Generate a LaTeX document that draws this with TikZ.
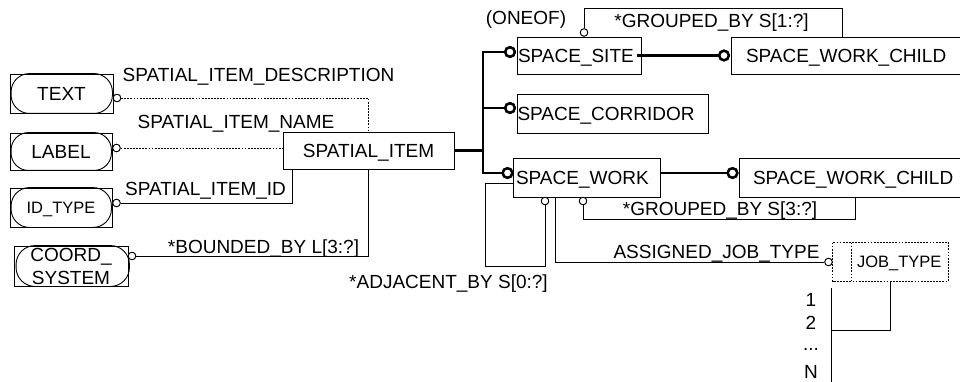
\documentclass[tikz,border=0pt]{standalone}
\usepackage{fontspec}
\setmainfont{Liberation Sans}
\usetikzlibrary{calc}
\newcommand\fsn{\fontsize{19}{23}\selectfont}
\newcommand\fss{\fontsize{16.5}{20}\selectfont}
\newcommand\boxtxt[3]{\makebox[#1pt][l]{\hspace{#2pt}#3}}
\tikzset{
  ln/.style={line width=0.9pt},
  bus/.style={line width=2.8pt},
  dotl/.style={line width=0.8pt, dash pattern=on 1.8pt off 1.3pt},
  box/.style={draw, line width=0.9pt, inner sep=0pt, text height=13.6pt, text depth=0pt, font=\fsn},
  lbl/.style={inner sep=0pt, text height=13.6pt, text depth=0pt, font=\fsn},
  oc/.style={circle, draw, line width=0.8pt, minimum size=7.5pt, inner sep=0pt, fill=white},
  boc/.style={circle, draw, line width=2.4pt, minimum size=9.5pt, inner sep=0pt, fill=white},
  pill/.style={line width=0.9pt}
}
\begin{document}
\begin{tikzpicture}[x=1pt,y=-1pt]
\useasboundingbox (0,0) rectangle (960,382);
\fill[white] (0,0) rectangle (960,382);

% left boxes
\node[box, minimum width=103pt, minimum height=39pt] (txt) at (61.5,93.5) {TEXT};
\node[box, minimum width=102pt, minimum height=37pt] (lab) at (61,151.5) {LABEL};
\node[box, font=\fss, text height=11.8pt, minimum width=102pt, minimum height=39pt] (idt) at (61,207.5) {ID\_TYPE};
\node[draw, line width=0.9pt, inner sep=0pt, font=\fsn, align=center, minimum width=114pt, minimum height=40pt] (crd) at (71,266) {COORD\_\\SYSTEM};
\draw[pill, rounded corners=18.5pt] ($(txt.north west)+(1.5,0)$) rectangle ($(txt.south east)+(-1,0)$);
\draw[pill, rounded corners=17.5pt] ($(lab.north west)+(1.5,0)$) rectangle ($(lab.south east)+(-1,0)$);
\draw[pill, rounded corners=18.5pt] ($(idt.north west)+(1.5,0)$) rectangle ($(idt.south east)+(-1,0)$);
\draw[pill, rounded corners=19pt] ($(crd.north west)+(2.5,0)$) rectangle ($(crd.south east)+(1,0)$);

% main boxes
\node[box, minimum width=171pt, minimum height=37pt] (spatial) at (368.5,150.5) {SPATIAL\_ITEM};
\node[box, minimum height=37pt] (site) at (579,55.5) {\boxtxt{124}{1}{SPACE\_SITE}};
\node[box, minimum height=37pt] (swc1) at (846.5,55.5) {\boxtxt{231}{15}{SPACE\_WORK\_CHILD}};
\node[box, minimum height=39pt] (corr) at (612.5,113.5) {\boxtxt{191}{0.5}{SPACE\_CORRIDOR}};
\node[box, minimum height=39pt] (sw) at (586.5,177.5) {\boxtxt{147}{3}{SPACE\_WORK}};
\node[box, minimum height=39pt] (swc2) at (850.5,177.5) {\boxtxt{223}{14}{SPACE\_WORK\_CHILD}};
\node[box, draw=none, font=\fss, text height=11.8pt, minimum height=38pt] (jt) at (890.5,262) {\boxtxt{115}{24}{JOB\_TYPE}};
\draw[dotl] (jt.north west) rectangle (jt.south east);
\draw[dotl] ($(jt.north west)+(19,0)$) -- ($(jt.south west)+(19,0)$);

% circles
\node[oc] (ctxt) at (117,98) {};
\node[oc] (clab) at (116.5,148) {};
\node[oc] (cid) at (116.5,203) {};
\node[oc] (ccrd) at (132,256) {};
\node[oc] (cg1) at (584,32.5) {};
\node[oc] (ca) at (545,201) {};
\node[oc] (cg3) at (583,201) {};
\node[oc] (cjt) at (828.5,262) {};
\node[boc] (bs) at (510,52) {};
\node[boc] (bc) at (510,108) {};
\node[boc] (bw) at (507.5,173) {};
\node[boc] (bswc1) at (724,55.5) {};
\node[boc] (bswc2) at (732.5,173) {};

% coordinates
\coordinate (busB) at (483,173);
\coordinate (idx) at (292,169);
\coordinate (g1) at (842,8);
\coordinate (adjA) at (485,266);
\coordinate (adjB) at (485,183);
\coordinate (g3) at (855,219);
\coordinate (aj) at (555,262);
\coordinate (j2) at (831,330);
\coordinate (jv) at (831,288);
\coordinate (jb) at (831,384);

% left connectors
\draw[dotl] (ctxt.east) -| (spatial.north);
\draw[dotl] (clab.east) -- (clab.east -| spatial.west);
\draw[ln] (cid.east) -| (idx);
\draw[ln] (ccrd.east) -| (spatial.south);

% bus
\draw[bus] (spatial.east) -- (spatial.east -| busB);
\draw[bus, line join=miter] (bs.west) -| (busB) -- (bw.west);
\draw[bus] (bc.west) -- (bc.west -| busB);
\draw[bus] ($(site.east)+(-4,0)$) -- (bswc1.west);
\draw[bus] (sw.east |- bswc2) -- (bswc2.west);

% relations
\draw[ln] (cg1.north) |- (g1) -- (g1 |- swc1.north);
\draw[ln] (ca.south) |- (adjA) -- (adjB) -- (adjB -| sw.west);
\draw[ln] (cg3.south) |- (g3) -- (g3 |- swc2.south);
\draw[ln] (aj |- sw.south) -- (aj) -- (cjt.west);
\draw[ln] (jt.south) |- (j2);
\draw[ln] (jv) -- (jb);

% redraw circles on top
\foreach \c in {ctxt,clab,cid,ccrd,cg1,ca,cg3,cjt}{\node[oc] at (\c) {};}
\foreach \c in {bs,bc,bw,bswc1,bswc2}{\node[boc] at (\c) {};}

% labels
\node[lbl] (ldesc) at (258.5,75) {SPATIAL\_ITEM\_DESCRIPTION};
\node[lbl] (lname) at (236,121.5) {SPATIAL\_ITEM\_NAME};
\node[lbl] (lid) at (205.5,188.5) {SPATIAL\_ITEM\_ID};
\node[lbl] (lbnd) at (263.5,247) {*BOUNDED\_BY L[3:?]};
\node[lbl] (loneof) at (526,18) {(ONEOF)};
\node[lbl] (lg1) at (711.5,21) {*GROUPED\_BY S[1:?]};
\node[lbl] (lg3) at (720,209) {*GROUPED\_BY S[3:?]};
\node[lbl] (ladj) at (448.5,282) {*ADJACENT\_BY S[0:?]};
\node[lbl] (lasg) at (716.5,251.5) {ASSIGNED\_JOB\_TYPE};
\node[lbl] (n1) at (811,300) {1};
\node[lbl] (n2) at (811,323) {2};
\node[inner sep=0pt, font=\fsn, anchor=base] (n3) at (811,350) {...};
\node[lbl] (n4) at (811,371.5) {N};
\end{tikzpicture}
\end{document}
